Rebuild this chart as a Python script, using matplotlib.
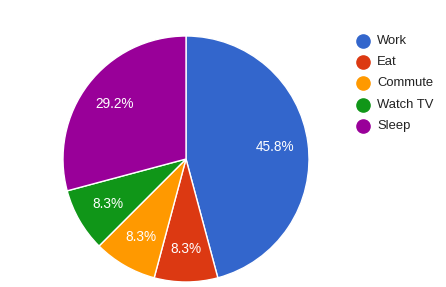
import matplotlib.pyplot as plt
from matplotlib.lines import Line2D

plt.rcParams['font.family'] = ['Liberation Sans', 'DejaVu Sans']

# Hours per day
tasks = ['Work', 'Eat', 'Commute', 'Watch TV', 'Sleep']
hours = [11, 2, 2, 2, 7]
colors = ['#3366cc', '#dc3912', '#ff9900', '#109618', '#990099']

W, H = 446, 287
fig = plt.figure(figsize=(W / 100, H / 100), dpi=100)

# pie centre (186, 159) px, radius 123 px
cx, cy, r = 186, 159, 123
ax = fig.add_axes([(cx - r) / W, (H - cy - r) / H, 2 * r / W, 2 * r / H])
wedges, texts, autotexts = ax.pie(
    hours, colors=colors, startangle=90, counterclock=False,
    autopct='%1.1f%%', pctdistance=0.73,
    wedgeprops=dict(edgecolor='white', linewidth=1),
    textprops=dict(color='white', fontsize=9.8))
ax.set_xlim(-1, 1)
ax.set_ylim(-1, 1)
ax.set_aspect('equal')
ax.axis('off')

# legend
for i, (t, c) in enumerate(zip(tasks, colors)):
    y = 41 + i * 21.2
    fig.add_artist(Line2D([363 / W], [1 - y / H], marker='o', markersize=9.5,
                          color=c, linestyle='none', transform=fig.transFigure))
    fig.text(377 / W, 1 - y / H, t, fontsize=9.4, color='#222222',
             va='center', ha='left')

plt.savefig('out.png', dpi=100)
